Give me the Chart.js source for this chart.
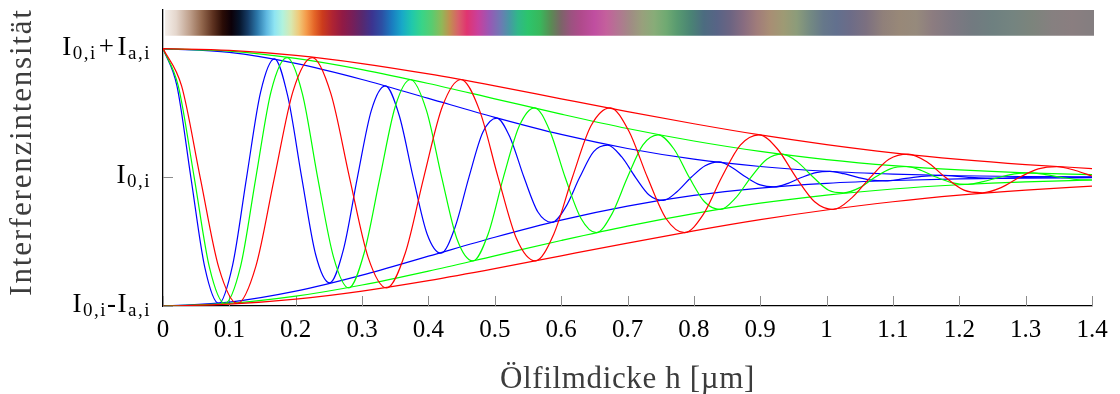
<!DOCTYPE html>
<html>
<head>
<meta charset="utf-8">
<script src="https://cdn.jsdelivr.net/npm/chart.js@4.4.1/dist/chart.umd.min.js"></script>
<style>
    html, body { margin: 0; padding: 0; background: #fff; }
    canvas { display: block; }
</style>
</head>
<body>
<canvas id="grafico" width="1120" height="394"></canvas>
<script>
// Achsen
const xTickWerte = [0, 0.1, 0.2, 0.3, 0.4, 0.5, 0.6, 0.7, 0.8, 0.9, 1, 1.1, 1.2, 1.3, 1.4];
const xTickLabels = ['0', '0.1', '0.2', '0.3', '0.4', '0.5', '0.6', '0.7', '0.8', '0.9', '1', '1.1', '1.2', '1.3', '1.4'];
const yTickWerte = [-1, 0, 1];
// Teile: [text, 0 = normal, 1 = tiefgestellt, 2 = Operator]
const yTickLabels = [
    [['I', 0], ['0,i', 1], ['-', 0], ['I', 0], ['a,i', 1]],
    [['I', 0], ['0,i', 1]],
    [['I', 0], ['0,i', 1], ['+', 2], ['I', 0], ['a,i', 1]]
];
const xTitel = 'Ölfilmdicke h [µm]';
const yTitel = 'Interferenzintensität';

// Einhüllende (oben / unten)
const envH = [0, 0.1, 0.2, 0.3, 0.4, 0.5, 0.6, 0.7, 0.8, 0.9, 1.0, 1.1, 1.2, 1.3, 1.4];
const rotOben = [1, 0.986, 0.947, 0.884, 0.803, 0.71, 0.61, 0.511, 0.416, 0.329, 0.254, 0.19, 0.139, 0.099, 0.068];
const rotUnten = [-1, -0.986, -0.947, -0.884, -0.803, -0.71, -0.61, -0.511, -0.416, -0.329, -0.254, -0.19, -0.139, -0.099, -0.068];
const gruenOben = [1, 0.98, 0.924, 0.837, 0.729, 0.61, 0.491, 0.379, 0.282, 0.201, 0.138, 0.091, 0.058, 0.035, 0.021];
const gruenUnten = [-1, -0.98, -0.924, -0.837, -0.729, -0.61, -0.491, -0.379, -0.282, -0.201, -0.138, -0.091, -0.058, -0.035, -0.021];
const blauOben = [1, 0.97, 0.885, 0.76, 0.613, 0.466, 0.333, 0.224, 0.141, 0.084, 0.047, 0.025, 0.012, 0.006, 0.003];
const blauUnten = [-1, -0.97, -0.885, -0.76, -0.613, -0.466, -0.333, -0.224, -0.141, -0.084, -0.047, -0.025, -0.012, -0.006, -0.003];

// Interferenzkurven
const rotH = [0, 0.028, 0.056, 0.084, 0.112, 0.140, 0.168, 0.196, 0.225, 0.253,
    0.281, 0.309, 0.337, 0.365, 0.393, 0.421, 0.449, 0.477, 0.505, 0.533,
    0.561, 0.589, 0.617, 0.645, 0.674, 0.702, 0.730, 0.758, 0.786, 0.814,
    0.842, 0.870, 0.898, 0.926, 0.954, 0.982, 1.010, 1.038, 1.066, 1.094,
    1.123, 1.151, 1.179, 1.207, 1.235, 1.263, 1.291, 1.319, 1.347, 1.375, 1.4];
const rotI = [1, 0.71, 0, -0.70, -0.98, -0.69, 0, 0.67, 0.93, 0.65,
    0, -0.62, -0.86, -0.59, 0, 0.55, 0.76, 0.52, 0, -0.48,
    -0.65, -0.44, 0, 0.40, 0.54, 0.36, 0, -0.32, -0.43, -0.29,
    0, 0.25, 0.33, 0.22, 0, -0.19, -0.25, -0.16, 0, 0.14,
    0.18, 0.12, 0, -0.10, -0.12, -0.08, 0, 0.065, 0.083, 0.053, 0.01];
const gruenH = [0, 0.023, 0.047, 0.070, 0.093, 0.117, 0.140, 0.163, 0.187, 0.210,
    0.233, 0.257, 0.280, 0.303, 0.327, 0.350, 0.373, 0.397, 0.420, 0.443,
    0.467, 0.490, 0.513, 0.537, 0.560, 0.583, 0.606, 0.630, 0.653, 0.676,
    0.700, 0.723, 0.746, 0.770, 0.793, 0.816, 0.840, 0.863, 0.886, 0.910,
    0.933, 0.956, 0.980, 1.003, 1.026, 1.050, 1.073, 1.096, 1.120, 1.143,
    1.166, 1.190, 1.213, 1.236, 1.260, 1.283, 1.306, 1.330, 1.353, 1.376, 1.4];
const gruenI = [1, 0.71, 0, -0.70, -0.98, -0.69, 0, 0.67, 0.93, 0.65,
    0, -0.62, -0.86, -0.59, 0, 0.55, 0.76, 0.52, 0, -0.48,
    -0.65, -0.44, 0, 0.40, 0.54, 0.36, 0, -0.32, -0.43, -0.29,
    0, 0.25, 0.33, 0.22, 0, -0.19, -0.25, -0.16, 0, 0.14,
    0.18, 0.12, 0, -0.10, -0.12, -0.08, 0, 0.066, 0.084, 0.053,
    0, -0.043, -0.055, -0.034, 0, 0.027, 0.034, 0.021, 0, -0.017, -0.021];
const blauH = [0, 0.021, 0.042, 0.063, 0.084, 0.105, 0.126, 0.147, 0.168, 0.188,
    0.209, 0.230, 0.251, 0.272, 0.293, 0.314, 0.335, 0.356, 0.377, 0.398,
    0.419, 0.440, 0.461, 0.482, 0.503, 0.523, 0.544, 0.565, 0.586, 0.607,
    0.628, 0.649, 0.670, 0.691, 0.712, 0.733, 0.754, 0.775, 0.796, 0.817,
    0.838, 0.858, 0.879, 0.900, 0.921, 0.942, 0.963, 0.984, 1.005, 1.026,
    1.047, 1.068, 1.089, 1.110, 1.131, 1.172, 1.214, 1.256, 1.298, 1.340, 1.382, 1.4];
const blauI = [1, 0.71, 0, -0.70, -0.98, -0.68, 0, 0.66, 0.92, 0.63,
    0, -0.60, -0.82, -0.56, 0, 0.52, 0.71, 0.48, 0, -0.44,
    -0.59, -0.39, 0, 0.35, 0.46, 0.31, 0, -0.27, -0.35, -0.23,
    0, 0.20, 0.25, 0.16, 0, -0.14, -0.18, -0.11, 0, 0.09,
    0.12, 0.074, 0, -0.059, -0.075, -0.047, 0, 0.037, 0.046, 0.028,
    0, -0.022, -0.027, -0.016, 0, 0.015, 0, -0.008, 0, 0.004, 0, 0];

// Farbband (Interferenzfarben)
const bandBereich = [1.1, 1.3];
const bandH = [0, 0.02, 0.04, 0.058, 0.075, 0.09, 0.103, 0.115, 0.128, 0.142,
    0.156, 0.168, 0.18, 0.193, 0.205, 0.216, 0.228, 0.24, 0.255, 0.27,
    0.285, 0.3, 0.315, 0.33, 0.345, 0.36, 0.375, 0.39, 0.405, 0.42,
    0.432, 0.445, 0.458, 0.475, 0.492, 0.508, 0.522, 0.535, 0.55, 0.568,
    0.585, 0.6, 0.615, 0.63, 0.65, 0.668, 0.688, 0.705, 0.722, 0.74,
    0.758, 0.775, 0.795, 0.815, 0.835, 0.855, 0.875, 0.895, 0.915, 0.935,
    0.955, 0.975, 0.995, 1.015, 1.035, 1.06, 1.085, 1.11, 1.135, 1.16,
    1.19, 1.22, 1.25, 1.28, 1.31, 1.34, 1.37, 1.4];
const bandFarben = ['#f8f4f0', '#e4d6cc', '#bfa08c', '#93684e', '#5e3220', '#2a0c06', '#0c0008', '#06142a', '#153c66', '#2c78aa',
    '#5fb8e0', '#8ee4f2', '#b0f2de', '#d8e8b0', '#f0c878', '#f49a4a', '#e46628', '#cc3c1c', '#b02432', '#921a44',
    '#781e58', '#58286e', '#3c3490', '#2c50a4', '#1a7cc0', '#18a8c8', '#20c8ac', '#38d488', '#58cc70', '#90b858',
    '#c09050', '#d8606a', '#e03470', '#c8409c', '#9858b4', '#7078b4', '#4898a4', '#30b888', '#2cc46c', '#38b85c',
    '#5a8a54', '#7c6468', '#9c5280', '#b04a8c', '#c04ea0', '#c4609c', '#b07890', '#a08c84', '#98a07c', '#88ac78',
    '#70aa72', '#589a70', '#4a8474', '#4c6c80', '#586486', '#6c6482', '#886c80', '#a07c7a', '#a88e74', '#9e9a74',
    '#8c9c7a', '#748a82', '#66788a', '#62708e', '#6c6c88', '#7c7080', '#90807a', '#988878', '#968a7c', '#8c7c80',
    '#7e7882', '#727a80', '#6e8080', '#748480', '#7c847c', '#868080', '#8a7e80', '#847e80'];

const schrift = '"Liberation Serif", "Times New Roman", serif';

function punkte(hs, werte) {
    return hs.map((h, i) => ({ x: h, y: werte[i] }));
}

function linie(hs, werte, farbe) {
    return {
        data: punkte(hs, werte),
        borderColor: farbe,
        borderWidth: 1.2,
        pointRadius: 0,
        cubicInterpolationMode: 'monotone',
        fill: false
    };
}

const deko = {
    id: 'deko',
    beforeDatasetsDraw(chart) {
        const { ctx, chartArea, scales: { x, y } } = chart;
        ctx.save();
        // Farbband
        const x0 = x.getPixelForValue(bandH[0]);
        const x1 = x.getPixelForValue(bandH[bandH.length - 1]);
        const g = ctx.createLinearGradient(x0, 0, x1, 0);
        bandH.forEach((h, i) => g.addColorStop(h / bandH[bandH.length - 1], bandFarben[i]));
        const yo = y.getPixelForValue(bandBereich[1]);
        const yu = y.getPixelForValue(bandBereich[0]);
        ctx.fillStyle = g;
        ctx.fillRect(x0 + 2, yo, x1 - x0, yu - yo);
        // Striche nach innen
        ctx.strokeStyle = '#8c8c8c';
        ctx.lineWidth = 1;
        xTickWerte.forEach(v => {
            const px = Math.round(x.getPixelForValue(v)) + 0.5;
            ctx.beginPath();
            ctx.moveTo(px, chartArea.bottom);
            ctx.lineTo(px, chartArea.bottom - 10);
            ctx.stroke();
        });
        yTickWerte.forEach(v => {
            const py = Math.round(y.getPixelForValue(v)) + 0.5;
            ctx.beginPath();
            ctx.moveTo(chartArea.left, py);
            ctx.lineTo(chartArea.left + 10, py);
            ctx.stroke();
        });
        ctx.restore();
    },
    afterDraw(chart) {
        const { ctx, chartArea, scales: { y } } = chart;
        ctx.save();
        ctx.fillStyle = '#000';
        ctx.textBaseline = 'alphabetic';
        ctx.letterSpacing = '1.5px';
        const gross = '27px ' + schrift;
        const klein = '19px ' + schrift;
        yTickWerte.forEach((v, i) => {
            const teile = yTickLabels[i];
            let breite = 0;
            teile.forEach(([t, art]) => {
                ctx.font = art === 1 ? klein : gross;
                breite += ctx.measureText(t).width + (art === 2 ? 4 : 0);
            });
            let px = chartArea.left - 12 - breite;
            const basis = y.getPixelForValue(v) + 6;
            teile.forEach(([t, art]) => {
                ctx.font = art === 1 ? klein : gross;
                if (art === 2) px += 2;
                ctx.fillText(t, px, art === 1 ? basis + 4 : basis);
                px += ctx.measureText(t).width + (art === 2 ? 2 : 0);
            });
        });
        // Achsentitel
        ctx.fillStyle = '#3c3c3c';
        ctx.font = '31px ' + schrift;
        ctx.textAlign = 'center';
        ctx.letterSpacing = '0.65px';
        ctx.fillText(xTitel, (chartArea.left + chartArea.right) / 2, 388);
        ctx.translate(31, 152);
        ctx.rotate(-Math.PI / 2);
        ctx.letterSpacing = '1.8px';
        ctx.fillText(yTitel, 0, 0);
        ctx.restore();
    }
};

new Chart(document.getElementById('grafico'), {
    type: 'line',
    data: {
        datasets: [
            linie(envH, rotOben, '#ff0000'),
            linie(envH, rotUnten, '#ff0000'),
            linie(rotH, rotI, '#ff0000'),
            linie(envH, gruenOben, '#00ff00'),
            linie(envH, gruenUnten, '#00ff00'),
            linie(gruenH, gruenI, '#00ff00'),
            linie(envH, blauOben, '#0000ff'),
            linie(envH, blauUnten, '#0000ff'),
            linie(blauH, blauI, '#0000ff')
        ]
    },
    options: {
        responsive: false,
        animation: false,
        layout: { padding: { top: 10, right: 28, left: 0, bottom: 0 } },
        plugins: { legend: { display: false }, tooltip: { enabled: false } },
        scales: {
            x: {
                type: 'linear',
                min: 0,
                max: 1.4,
                afterFit: s => { s.height = 88; },
                afterBuildTicks: s => { s.ticks = xTickWerte.map(v => ({ value: v })); },
                grid: { display: false, drawTicks: false },
                border: { color: '#000', width: 1.3 },
                ticks: {
                    font: { family: schrift, size: 25 },
                    color: '#000',
                    padding: 9,
                    maxRotation: 0,
                    autoSkip: false,
                    callback: (v, i) => xTickLabels[i]
                }
            },
            y: {
                min: -1,
                max: 1.3,
                afterFit: s => { s.width = 163; },
                grid: { display: false, drawTicks: false },
                border: { color: '#000', width: 1.3 },
                ticks: { display: false }
            }
        }
    },
    plugins: [deko]
});
</script>
</body>
</html>
